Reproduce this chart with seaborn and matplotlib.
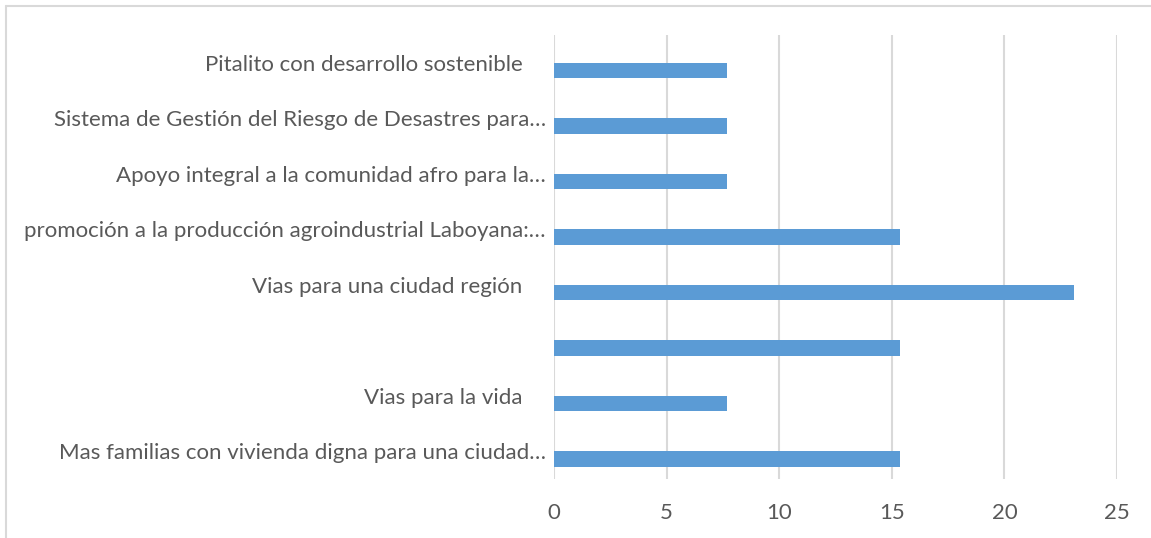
import matplotlib
matplotlib.use("Agg")
import matplotlib.pyplot as plt
import seaborn as sns
import pandas as pd
from matplotlib.lines import Line2D

categories = [
    "Pitalito con desarrollo sostenible    ",
    "Sistema de Gestión del Riesgo de Desastres para…",
    "Apoyo integral a la comunidad afro para la…",
    "promoción a la producción agroindustrial Laboyana:…",
    "Vias para una ciudad región    ",
    "",
    "Vias para la vida    ",
    "Mas familias con vivienda digna para una ciudad…",
]
values = [7.69, 7.69, 7.69, 15.38, 23.08, 15.38, 7.69, 15.38]
x_ticks = [0, 5, 10, 15, 20, 25]

keys = [f"c{i}" for i in range(len(categories))]
df = pd.DataFrame({
    "key": keys * 2,
    "value": [0.0] * len(values) + values,
    "series": ["pad"] * len(values) + ["Serie 1"] * len(values),
})

sns.set_theme(style="white")
plt.rcParams["font.family"] = ["Lato", "DejaVu Sans"]

fig = plt.figure(figsize=(11.51, 5.38), dpi=100)
ax = fig.add_axes([554 / 1151, 1 - 479 / 538, (1117 - 554) / 1151, (479 - 35) / 538])

sns.barplot(data=df, y="key", x="value", hue="series", order=keys,
            hue_order=["pad", "Serie 1"], palette=["#5B9BD5", "#5B9BD5"],
            width=0.55, dodge=True, orient="h", ax=ax, legend=False,
            linewidth=0, saturation=1)

ax.set_xlim(0, 25)
ax.set_xticks(x_ticks)
ax.set_xticklabels([str(t) for t in x_ticks])
ax.set_yticks(range(len(categories)))
ax.set_yticklabels(categories)
ax.set_xlabel("")
ax.set_ylabel("")
for s in ax.spines.values():
    s.set_visible(False)
ax.grid(axis="x", color="#D9D9D9", linewidth=1.5)
ax.set_axisbelow(True)
ax.tick_params(axis="x", length=0, labelsize=16, colors="#595959", pad=17)
ax.tick_params(axis="y", length=0, labelsize=16, colors="#595959", pad=6)

fig.add_artist(Line2D([6 / 1151, 1], [1 - 6 / 538, 1 - 6 / 538], transform=fig.transFigure,
                      color="#D9D9D9", linewidth=1.5))
fig.add_artist(Line2D([6 / 1151, 6 / 1151], [0, 1 - 6 / 538], transform=fig.transFigure,
                      color="#D9D9D9", linewidth=1.5))

fig.savefig("out.png", dpi=100)
